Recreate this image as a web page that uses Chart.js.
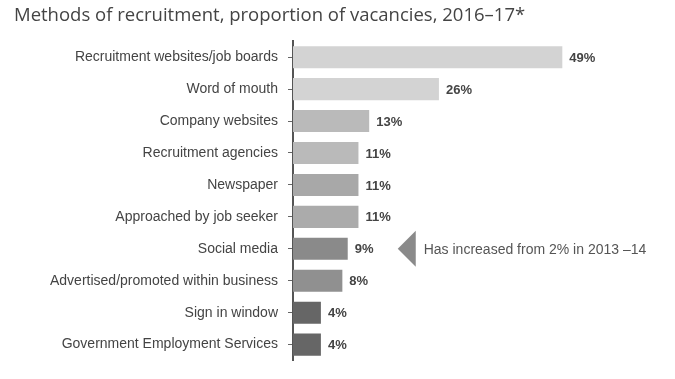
<!DOCTYPE html>
<html>
<head>
<meta charset="utf-8">
<script src="https://cdn.jsdelivr.net/npm/chart.js@4"></script>
<style>
  html, body { margin: 0; padding: 0; background: #fff; }
  #wrap { width: 675px; height: 379px; }
</style>
</head>
<body>
<div id="wrap"><canvas id="grafico" width="675" height="379"></canvas></div>
<script>
// dados
const categorias = [
  'Recruitment websites/job boards',
  'Word of mouth',
  'Company websites',
  'Recruitment agencies',
  'Newspaper',
  'Approached by job seeker',
  'Social media',
  'Advertised/promoted within business',
  'Sign in window',
  'Government Employment Services'
];
const percentuais = [49, 26, 13, 11, 11, 11, 9, 8, 4, 4];
const coresBarras = ['#d3d3d3', '#d3d3d3', '#bababa', '#bababa', '#a8a8a8', '#ababab', '#8a8a8a', '#909090', '#666666', '#666666'];
const titulo = 'Methods of recruitment, proportion of vacancies, 2016\u201317*';
const notaIndice = 6;
const notaTexto = 'Has increased from 2% in 2013 \u201314';

const FONTE_ROTULO = '"Liberation Sans Narrow", "Liberation Sans", Arial, sans-serif';

// rótulos de valor ao fim das barras + nota da seta
const rotulosPlugin = {
  id: 'rotulos',
  afterDatasetsDraw(chart) {
    const ctx = chart.ctx;
    const meta = chart.getDatasetMeta(0);
    ctx.save();
    ctx.font = 'bold 13px "Liberation Sans", Arial, sans-serif';
    ctx.fillStyle = '#444';
    ctx.textAlign = 'left';
    ctx.textBaseline = 'middle';
    meta.data.forEach((bar, i) => {
      ctx.fillText(percentuais[i] + '%', bar.x + 7, bar.y + 1);
    });

    // seta da nota
    const alvo = meta.data[notaIndice];
    const ponta = alvo.x + 50;
    ctx.fillStyle = '#8a8a8a';
    ctx.beginPath();
    ctx.moveTo(ponta, alvo.y);
    ctx.lineTo(ponta + 18, alvo.y - 18);
    ctx.lineTo(ponta + 18, alvo.y + 18);
    ctx.closePath();
    ctx.fill();

    ctx.font = '14px ' + FONTE_ROTULO;
    ctx.fillStyle = '#555';
    ctx.fillText(notaTexto, ponta + 26, alvo.y + 1);
    ctx.restore();
  }
};

new Chart(document.getElementById('grafico'), {
  type: 'bar',
  data: {
    labels: categorias,
    datasets: [{
      data: percentuais,
      backgroundColor: coresBarras,
      base: -1.2,
      categoryPercentage: 1,
      barPercentage: 0.69
    }]
  },
  options: {
    indexAxis: 'y',
    responsive: false,
    animation: false,
    layout: { padding: { left: 14, right: 0, top: 0, bottom: 15 } },
    plugins: {
      legend: { display: false },
      tooltip: { enabled: false },
      title: {
        display: true,
        text: titulo,
        align: 'start',
        color: '#444',
        font: { family: '"Open Sans", sans-serif', size: 18.5, weight: 'normal', lineHeight: 1.2 },
        padding: { top: 5, bottom: 14 }
      }
    },
    scales: {
      x: { display: false, min: -1.2, max: 70 },
      y: {
        afterFit: (scale) => { scale.width = 279; },
        grid: { drawOnChartArea: false, drawTicks: true, tickLength: 5, offset: false, color: '#666' },
        border: { display: true, color: '#555', width: 2 },
        ticks: {
          padding: 10,
          color: '#444',
          font: { family: FONTE_ROTULO, size: 14 }
        }
      }
    }
  },
  plugins: [rotulosPlugin]
});
</script>
</body>
</html>
